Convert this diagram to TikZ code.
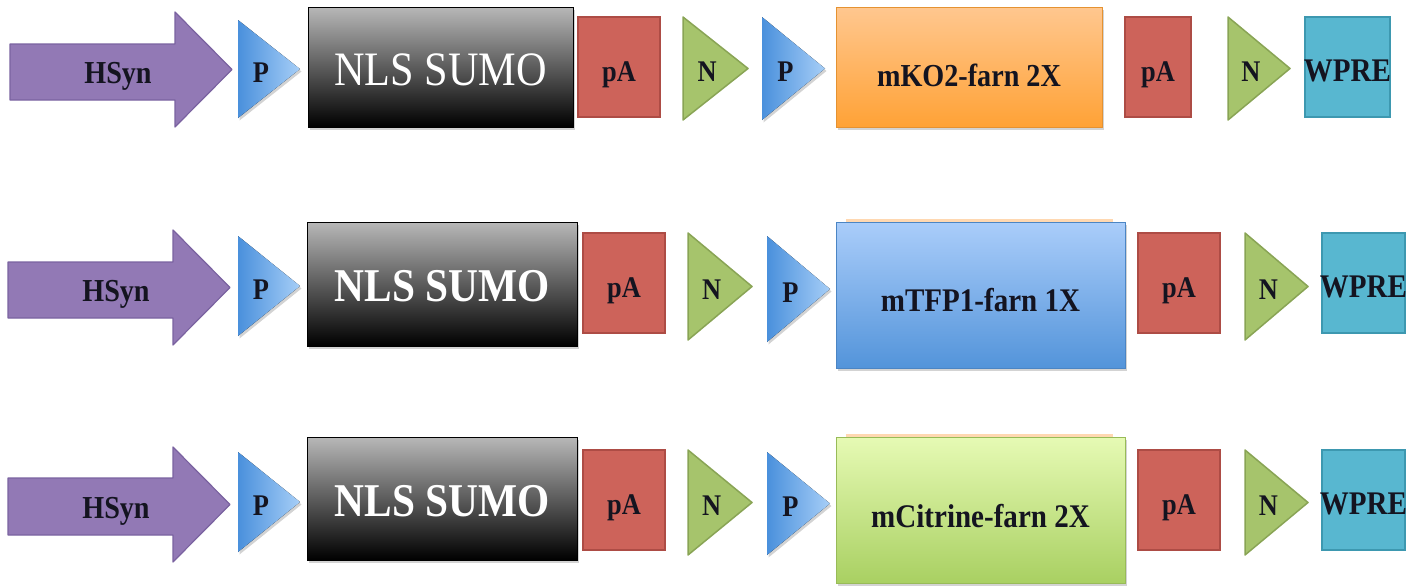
\documentclass[tikz,border=0pt]{standalone}
\usepackage{fontspec}
\setmainfont{Liberation Serif}[FakeStretch=0.88]
\usetikzlibrary{shadows}
\definecolor{hsynF}{HTML}{9279B5}
\definecolor{hsynD}{HTML}{7A62A0}
\definecolor{pL}{HTML}{4A90DC}
\definecolor{pR}{HTML}{A6CEF7}
\definecolor{paF}{HTML}{CD635A}
\definecolor{paD}{HTML}{AD4C45}
\definecolor{nF}{HTML}{A6C46C}
\definecolor{nD}{HTML}{89A455}
\definecolor{wpF}{HTML}{58B7D0}
\definecolor{wpD}{HTML}{3D98B0}
\definecolor{orT}{HTML}{FFC78F}
\definecolor{orB}{HTML}{FFA236}
\definecolor{blT}{HTML}{AACDFA}
\definecolor{blB}{HTML}{5394DA}
\definecolor{grT}{HTML}{E6FAB4}
\definecolor{grB}{HTML}{A9D062}
\definecolor{txt}{HTML}{141420}
\tikzset{
  x=1pt, y=-1pt,
  shd/.style={drop shadow={shadow xshift=1.5pt,shadow yshift=-2.5pt,opacity=0.35}},
  hsyn/.style={fill=hsynF, draw=hsynD, line width=1.2pt, line join=round},
  pblue/.style={left color=pL, right color=pR, draw=none, shd},
  ngreen/.style={fill=nF, draw=nD, line width=1.5pt, line join=round},
  pabox/.style={fill=paF, draw=paD, line width=1.8pt},
  wpbox/.style={fill=wpF, draw=wpD, line width=1.8pt},
  nlsbox/.style={top color=black!28, bottom color=black, draw=black, line width=1pt, shd},
  orbox/.style={top color=orT, bottom color=orB, draw=orB!90!black, line width=0.6pt, shd},
  blbox/.style={top color=blT, bottom color=blB, draw=blB!90!black, line width=0.6pt, shd},
  grbox/.style={top color=grT, bottom color=grB, draw=grB!90!black, line width=0.6pt, shd},
  lab/.style={text=txt, inner sep=0pt, text height=20pt, text depth=0pt, font=\bfseries\fontsize{30}{32}\selectfont},
  hlab/.style={lab, text height=21pt, font=\bfseries\fontsize{32}{36}\selectfont},
  palab/.style={lab, text height=20pt, font=\bfseries\fontsize{30}{32}\selectfont},
  wplab/.style={lab, text height=22pt, font=\bfseries\fontsize{33}{34}\selectfont},
  nlsA/.style={text=white, inner sep=0pt, text height=32pt, text depth=0pt, font=\fontsize{48}{50}\selectfont},
  nlsB/.style={text=white, inner sep=0pt, text height=31pt, text depth=0pt, font=\bfseries\fontsize{47}{50}\selectfont},
  fpA/.style={lab, text height=21pt, font=\bfseries\fontsize{32}{36}\selectfont},
  fpB/.style={lab, text height=22pt, font=\bfseries\fontsize{33}{36}\selectfont},
}
% arrow: name, x0, xh, xt, ytop, yb1, yb2, ybot
\newcommand\hsynarrow[8]{%
  \filldraw[hsyn] (#2,#6) -- (#3,#6) -- (#3,#5) -- (#4,{(#5+#8)/2}) -- (#3,#8) -- (#3,#7) -- (#2,#7) -- cycle;
  \node[hlab] (#1) at ({#3-57},{(#6+#7)/2+1}) {HSyn};}
% triangle: name, style, x1, x2, ytop, ybot, label
\newcommand\tri[7]{%
  \filldraw[#2] (#3,#5) -- (#4,{(#5+#6)/2}) -- (#3,#6) -- cycle;
  \node[lab] (#1) at ({#3+(#4-#3)*0.37},{(#5+#6)/2+3}) {#7};}
% box: name, shapestyle, textstyle, x1, y1, x2, y2, text, y offset
\newcommand\blk[9]{%
  \filldraw[#2] (#4,#5) rectangle (#6,#7);
  \node[#3] (#1) at ({(#4+#6)/2},{(#5+#7)/2+#9}) {#8};}
\begin{document}
\begin{tikzpicture}
\useasboundingbox (0,0) rectangle (1424,587);
% ---------- row 1
\hsynarrow{h1}{10}{175}{232}{12}{44}{100}{127}
\tri{p1a}{pblue}{238}{300}{20}{118}{P}
\blk{nls1}{nlsbox}{nlsA}{308}{7}{573}{127}{NLS SUMO}{2}
\blk{pa1a}{pabox}{palab}{578}{17}{660}{117}{pA}{4}
\tri{n1a}{ngreen}{683}{748}{17}{120}{N}
\tri{p1b}{pblue}{762}{825}{17}{120}{P}
\blk{fp1}{orbox}{fpA}{836}{7}{1102}{127}{mKO2-farn 2X}{9}
\blk{pa1b}{pabox}{palab}{1125}{17}{1191}{117}{pA}{4}
\tri{n1b}{ngreen}{1228}{1290}{17}{120}{N}
\blk{wp1}{wpbox}{wplab}{1305}{17}{1390}{117}{WPRE}{3}
% ---------- row 2
\hsynarrow{h2}{8}{173}{230}{230}{262}{318}{345}
\tri{p2a}{pblue}{238}{300}{236}{336}{P}
\blk{nls2}{nlsbox}{nlsB}{307}{222}{577}{346}{NLS SUMO}{2}
\blk{pa2a}{pabox}{palab}{583}{233}{665}{333}{pA}{4}
\tri{n2a}{ngreen}{688}{752}{233}{340}{N}
\tri{p2b}{pblue}{767}{830}{236}{342}{P}
\fill[orT!70] (846,219) rectangle (1113,224);
\blk{fp2}{blbox}{fpB}{836}{222}{1125}{368}{mTFP1-farn 1X}{5}
\blk{pa2b}{pabox}{palab}{1138}{233}{1220}{333}{pA}{4}
\tri{n2b}{ngreen}{1245}{1308}{233}{340}{N}
\blk{wp2}{wpbox}{wplab}{1322}{233}{1405}{333}{WPRE}{3}
% ---------- row 3
\hsynarrow{h3}{8}{173}{230}{447}{478}{535}{562}
\tri{p3a}{pblue}{238}{300}{452}{552}{P}
\blk{nls3}{nlsbox}{nlsB}{307}{437}{577}{560}{NLS SUMO}{2}
\blk{pa3a}{pabox}{palab}{583}{450}{665}{550}{pA}{4}
\tri{n3a}{ngreen}{688}{752}{450}{555}{N}
\tri{p3b}{pblue}{767}{830}{452}{555}{P}
\fill[orT!70] (846,434) rectangle (1113,439);
\blk{fp3}{grbox}{fpB}{836}{437}{1125}{583}{mCitrine-farn 2X}{6}
\blk{pa3b}{pabox}{palab}{1138}{450}{1220}{550}{pA}{4}
\tri{n3b}{ngreen}{1245}{1308}{450}{555}{N}
\blk{wp3}{wpbox}{wplab}{1322}{450}{1405}{550}{WPRE}{3}
\end{tikzpicture}
\end{document}
